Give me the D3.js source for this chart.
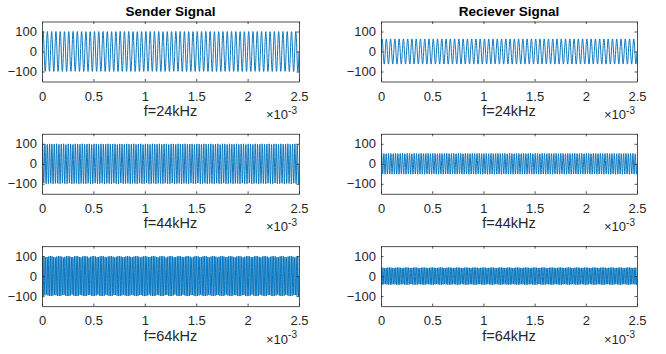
<!DOCTYPE html>
<html>
<head>
<meta charset="utf-8">
<script src="https://cdn.jsdelivr.net/npm/d3@7"></script>
<style>
  body { margin: 0; background: #fff; }
  svg { font-family: "Liberation Sans", Arial, sans-serif; }
  .tick text { fill: #262626; font-size: 13px; }
</style>
</head>
<body>
<svg id="fig" width="666" height="354"></svg>
<script>
  // signal settings
  const freqKHz = [24, 44, 64];
  const senderAmp = [100, 100, 100];
  const receiverAmp = [63, 52, 43];
  const sampleRate = 500000; // Hz
  const duration = 2.5e-3;   // s
  const titles = ['Sender Signal', 'Reciever Signal'];
  const xTicks = [0, 0.5, 1, 1.5, 2, 2.5];
  const yTicks = [-100, 0, 100];

  const svg = d3.select('#fig');
  const COLS = [{ left: 42, right: 299 }, { left: 381, right: 637 }];
  const ROW_TOP = 21.5;
  const ROW_STEP = 112.3;
  const PLOT_H = 60;
  const ink = '#262626';

  const nSamples = Math.round(duration * sampleRate);
  const makeSignal = (f, a) =>
    d3.range(nSamples + 1).map(i => {
      const t = i / sampleRate;
      return [t * 1000, a * Math.sin(2 * Math.PI * f * 1000 * t)];
    });

  COLS.forEach((col, c) => {
    const amps = c === 0 ? senderAmp : receiverAmp;
    freqKHz.forEach((f, r) => {
      const top = ROW_TOP + r * ROW_STEP;
      const x = d3.scaleLinear().domain([0, 2.5]).range([col.left, col.right]);
      const y = d3.scaleLinear().domain([-150, 150]).range([top + PLOT_H, top]);
      const g = svg.append('g');

      const clipId = `clip-${c}-${r}`;
      g.append('clipPath').attr('id', clipId)
        .append('rect')
        .attr('x', col.left).attr('y', top)
        .attr('width', col.right - col.left).attr('height', PLOT_H);

      const line = d3.line().x(d => x(d[0])).y(d => y(d[1]));
      g.append('path')
        .datum(makeSignal(f, amps[r]))
        .attr('clip-path', `url(#${clipId})`)
        .attr('fill', 'none')
        .attr('stroke', '#0072BD')
        .attr('stroke-width', 0.95)
        .attr('d', line);

      // axes, ticks inward, box on
      const xb = g.append('g').attr('transform', `translate(0,${top + PLOT_H})`)
        .call(d3.axisBottom(x).tickValues(xTicks).tickSizeInner(-2.5).tickSizeOuter(0)
          .tickPadding(7).tickFormat(d3.format('')));
      const xt = g.append('g').attr('transform', `translate(0,${top})`)
        .call(d3.axisTop(x).tickValues(xTicks).tickSizeInner(-2.5).tickSizeOuter(0).tickFormat(''));
      const yl = g.append('g').attr('transform', `translate(${col.left},0)`)
        .call(d3.axisLeft(y).tickValues(yTicks).tickSizeInner(-2.5).tickSizeOuter(0).tickPadding(5));
      const yr = g.append('g').attr('transform', `translate(${col.right},0)`)
        .call(d3.axisRight(y).tickValues(yTicks).tickSizeInner(-2.5).tickSizeOuter(0).tickFormat(''));
      [xb, xt, yl, yr].forEach(a => {
        a.selectAll('path, line').attr('stroke', ink).attr('stroke-width', 0.8);
        a.attr('font-family', null).attr('font-size', null);
      });
      xb.selectAll('.tick text').attr('dy', '0.95em');

      g.append('text')
        .attr('x', (col.left + col.right) / 2)
        .attr('y', top + PLOT_H + 34.5)
        .attr('text-anchor', 'middle')
        .attr('fill', ink)
        .attr('font-size', 14.5)
        .text(`f=${f}kHz`);

      const exp = g.append('text')
        .attr('x', col.right - 33)
        .attr('y', top + PLOT_H + 37.5)
        .attr('fill', ink)
        .attr('font-size', 13);
      exp.append('tspan').text('\u00d710');
      exp.append('tspan').attr('dy', -5.5).attr('font-size', 10).text('-3');

      if (r === 0) {
        g.append('text')
          .attr('x', (col.left + col.right) / 2)
          .attr('y', top - 6)
          .attr('text-anchor', 'middle')
          .attr('fill', '#000')
          .attr('font-weight', 'bold')
          .attr('font-size', 13.5)
          .text(titles[c]);
      }
    });
  });
</script>
</body>
</html>
